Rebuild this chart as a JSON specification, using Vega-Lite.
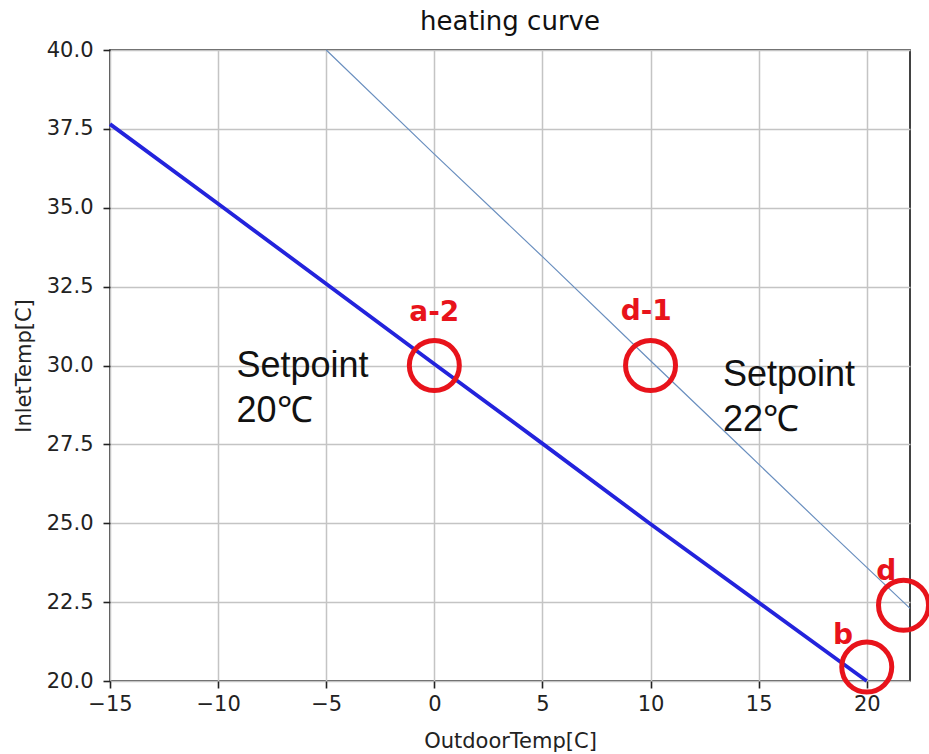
{
  "$schema": "https://vega.github.io/schema/vega-lite/v6.json",
  "width": 800,
  "height": 631,
  "autosize": {"type": "none"},
  "padding": {"left": 110, "top": 50, "right": 19, "bottom": 73},
  "background": "white",
  "title": {"text": "heating curve", "fontSize": 26, "font": "DejaVu Sans", "fontWeight": "normal", "color": "#111", "anchor": "middle", "baseline": "alphabetic", "frame": "group", "offset": 19, "dy": 36},
  "datasets": {
    "curves": [
      {"series": "Setpoint 20", "x": -15, "y": 37.65},
      {"series": "Setpoint 20", "x": -9.75, "y": 35},
      {"series": "Setpoint 20", "x": 0, "y": 30.05},
      {"series": "Setpoint 20", "x": 5.05, "y": 27.5},
      {"series": "Setpoint 20", "x": 9.95, "y": 25},
      {"series": "Setpoint 20", "x": 20, "y": 20},
      {"series": "Setpoint 22", "x": -5, "y": 40},
      {"series": "Setpoint 22", "x": 0, "y": 36.7},
      {"series": "Setpoint 22", "x": 5, "y": 33.45},
      {"series": "Setpoint 22", "x": 10, "y": 30.15},
      {"series": "Setpoint 22", "x": 14.2, "y": 27.4},
      {"series": "Setpoint 22", "x": 18, "y": 24.9},
      {"series": "Setpoint 22", "x": 22, "y": 22.3}
    ],
    "rings": [
      {"x": 0, "y": 30},
      {"x": 10, "y": 30},
      {"x": 20, "y": 20.44},
      {"x": 21.7, "y": 22.4}
    ],
    "tags": [
      {"x": 0, "y": 31.66, "label": "a-2"},
      {"x": 9.8, "y": 31.7, "label": "d-1"},
      {"x": 18.9, "y": 21.43, "label": "b"},
      {"x": 20.9, "y": 23.45, "label": "d"}
    ],
    "notes": [
      {"x": -9.15, "y": 30.0, "label": "Setpoint\n20℃"},
      {"x": 13.35, "y": 29.7, "label": "Setpoint\n22℃"}
    ]
  },
  "encoding": {
    "x": {
      "field": "x", "type": "quantitative",
      "scale": {"domain": [-15, 22], "nice": false, "zero": false},
      "axis": {"values": [-15, -10, -5, 0, 5, 10, 15, 20], "title": "OutdoorTemp[C]", "labelPadding": 5, "titlePadding": 16}
    },
    "y": {
      "field": "y", "type": "quantitative",
      "scale": {"domain": [20, 40], "nice": false, "zero": false},
      "axis": {"values": [20, 22.5, 25, 27.5, 30, 32.5, 35, 37.5, 40], "format": ".1f", "title": "InletTemp[C]", "labelPadding": 10, "titlePadding": 12}
    }
  },
  "layer": [
    {
      "data": {"name": "curves"},
      "mark": {"type": "line"},
      "encoding": {
        "detail": {"field": "series", "type": "nominal"},
        "color": {"field": "series", "type": "nominal", "scale": {"domain": ["Setpoint 20", "Setpoint 22"], "range": ["#2323dc", "#6a8fbf"]}, "legend": null},
        "strokeWidth": {"field": "series", "type": "nominal", "scale": {"domain": ["Setpoint 20", "Setpoint 22"], "range": [3.8, 1.2]}, "legend": null}
      }
    },
    {
      "data": {"name": "rings"},
      "mark": {"type": "point", "shape": "circle", "filled": false, "size": 2500, "stroke": "#e8131b", "strokeWidth": 5, "opacity": 1},
      "encoding": {}
    },
    {
      "data": {"name": "tags"},
      "mark": {"type": "text", "font": "DejaVu Sans", "fontWeight": "bold", "fontSize": 28, "color": "#e8131b", "align": "center", "baseline": "middle"},
      "encoding": {"text": {"field": "label", "type": "nominal"}}
    },
    {
      "data": {"name": "notes"},
      "mark": {"type": "text", "font": "Liberation Sans", "fontSize": 36, "color": "#111", "align": "left", "baseline": "middle", "lineBreak": "\n", "lineHeight": 45},
      "encoding": {"text": {"field": "label", "type": "nominal"}}
    }
  ],
  "config": {
    "view": {"stroke": "#222", "strokeWidth": 1.7},
    "axis": {
      "domain": false,
      "grid": true,
      "gridColor": "#c4c4c4",
      "gridWidth": 1.5,
      "tickSize": 7,
      "tickWidth": 1.6,
      "tickColor": "#222",
      "labelFont": "DejaVu Sans",
      "labelFontSize": 21,
      "labelColor": "#222",
      "labelFlush": false,
      "labelOverlap": false,
      "titleFont": "DejaVu Sans",
      "titleFontSize": 21,
      "titleFontWeight": "normal",
      "titleColor": "#222"
    }
  }
}
